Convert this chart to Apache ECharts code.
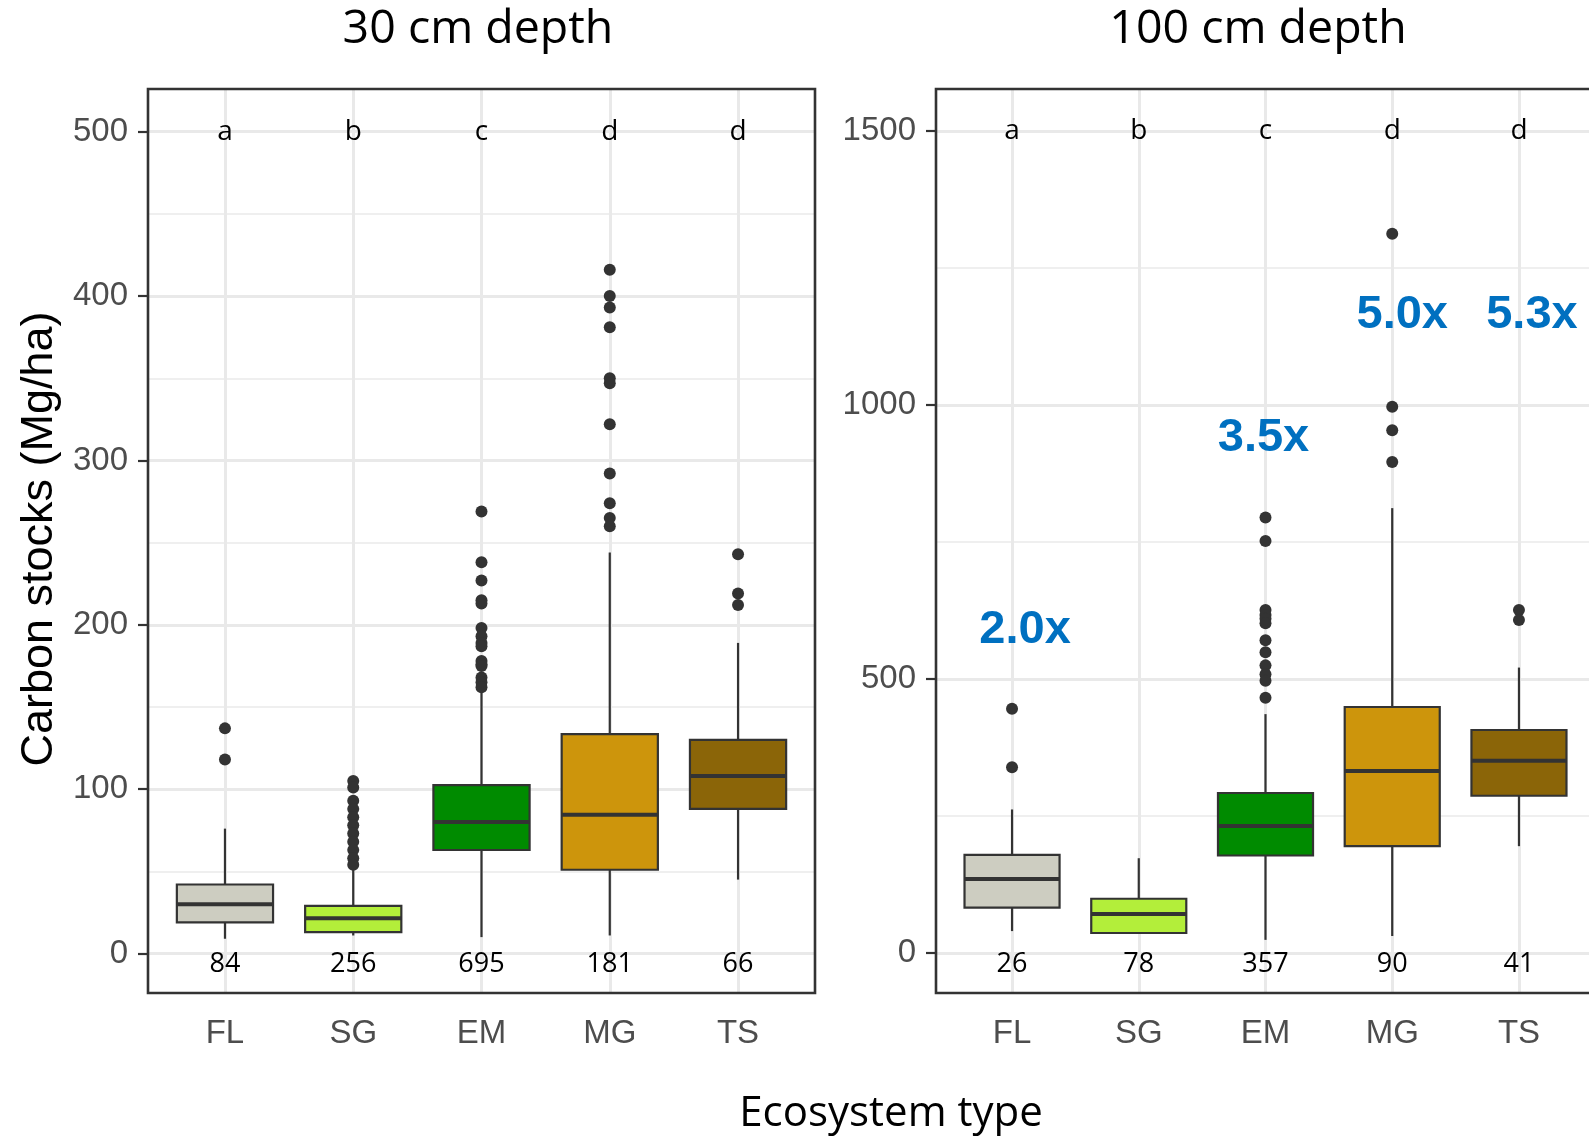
<!DOCTYPE html>
<html>
<head>
<meta charset="utf-8">
<script src="https://cdn.jsdelivr.net/npm/echarts@6/dist/echarts.min.js"></script>
<style>
  html, body { margin: 0; padding: 0; background: #ffffff; }
  #chart { width: 1589px; height: 1139px; }
</style>
</head>
<body>
<div id="chart"></div>
<script>
// ---- data ---------------------------------------------------------------
const categories = ['FL', 'SG', 'EM', 'MG', 'TS'];
const letters = ['a', 'b', 'c', 'd', 'd'];

// 30 cm depth: [lower whisker, Q1, median, Q3, upper whisker] (Mg/ha)
const box30 = [
  [9, 19, 30, 42, 76],
  [11, 13, 21.5, 29, 51],
  [10, 63, 80, 102.5, 160],
  [11, 51, 84.5, 133.5, 244],
  [45, 88, 108, 130, 189]
];
const outliers30 = [
  [137, 118],
  [105, 101, 93, 88, 83, 78, 73, 68, 63, 58, 54],
  [269, 238, 227, 215, 213, 198, 193, 189, 187, 178, 176, 175, 168, 165, 162],
  [416, 400, 393, 381, 350, 347, 322, 292, 274, 265, 260],
  [243, 219, 212]
];
const n30 = [84, 256, 695, 181, 66];
const yTicks30 = [0, 100, 200, 300, 400, 500];

// 100 cm depth
const box100 = [
  [40, 83, 135, 179, 262],
  [35, 36.5, 71, 99, 173],
  [24, 178, 232, 292, 436],
  [31, 195, 332, 449, 812],
  [195, 287, 351, 407, 521]
];
const outliers100 = [
  [446, 339],
  [],
  [795, 752, 626, 617, 610, 602, 571, 549, 525, 509, 497, 466],
  [1313, 997, 954, 896],
  [626, 608]
];
const n100 = [26, 78, 357, 90, 41];
const yTicks100 = [0, 500, 1000, 1500];

// fold-change annotations on the 100 cm panel
const foldText = ['2.0x', '', '3.5x', '5.0x', '5.3x'];
const foldY = [590, null, 940, 1165, 1165];

// ---- styling ------------------------------------------------------------
const boxColors = ['#CDCDC1', '#B3EE3A', '#008B00', '#CD950C', '#8B6508'];
const foldNudgePx = [13, 0, -2, 10, 13];
const ink = '#333333';
const gridGrey = '#E9E9E9';
const catPos = categories.map((c, i) => i + 1);

function boxData(stats) {
  return stats.map((s, i) => [i + 1, s[0], s[1], s[2], s[3], s[4], i]);
}
function outlierData(lists) {
  const out = [];
  lists.forEach((vals, i) => vals.forEach(v => out.push([i + 1, v])));
  return out;
}
function minorBetween(ticks) {
  const m = [];
  for (let i = 0; i < ticks.length - 1; i++) m.push((ticks[i] + ticks[i + 1]) / 2);
  return m;
}
function gridLineData(ticks) {
  const d = [];
  minorBetween(ticks).forEach(v => d.push({ yAxis: v, lineStyle: { color: '#EFEFEF', width: 2, type: 'solid' } }));
  ticks.forEach(v => d.push({ yAxis: v, lineStyle: { color: gridGrey, width: 3, type: 'solid' } }));
  catPos.forEach(v => d.push({ xAxis: v, lineStyle: { color: gridGrey, width: 3, type: 'solid' } }));
  return d;
}

function renderBox(params, api) {
  const x = api.value(0);
  const pLo = api.coord([x, api.value(1)]);
  const pQ1 = api.coord([x, api.value(2)]);
  const pMed = api.coord([x, api.value(3)]);
  const pQ3 = api.coord([x, api.value(4)]);
  const pHi = api.coord([x, api.value(5)]);
  const w = api.size([0.75, 0])[0];
  const cx = pMed[0];
  const fill = boxColors[api.value(6)];
  return {
    type: 'group',
    children: [
      { type: 'line', shape: { x1: cx, y1: pHi[1], x2: cx, y2: pQ3[1] }, style: { stroke: ink, lineWidth: 2.2 } },
      { type: 'line', shape: { x1: cx, y1: pQ1[1], x2: cx, y2: pLo[1] }, style: { stroke: ink, lineWidth: 2.2 } },
      { type: 'rect', shape: { x: cx - w / 2, y: pQ3[1], width: w, height: pQ1[1] - pQ3[1] },
        style: { fill: fill, stroke: ink, lineWidth: 2.2 } },
      { type: 'line', shape: { x1: cx - w / 2, y1: pMed[1], x2: cx + w / 2, y2: pMed[1] },
        style: { stroke: ink, lineWidth: 4 } }
    ]
  };
}

function xAxisFor(gridIndex) {
  return {
    type: 'value', gridIndex: gridIndex, min: 0.4, max: 5.6,
    axisLine: { show: false },
    splitLine: { show: false },
    axisTick: { show: true, customValues: catPos, length: 10, lineStyle: { color: ink, width: 2.2 } },
    axisLabel: {
      customValues: catPos, margin: 24,
      formatter: v => categories[Math.round(v) - 1],
      color: '#4D4D4D', fontFamily: 'Liberation Sans', fontSize: 33
    }
  };
}
function yAxisFor(gridIndex, min, max, ticks) {
  return {
    type: 'value', gridIndex: gridIndex, min: min, max: max,
    axisLine: { show: false },
    splitLine: { show: false },
    axisTick: { show: true, customValues: ticks, length: 10, lineStyle: { color: ink, width: 2.2 } },
    axisLabel: {
      customValues: ticks, margin: 20,
      formatter: v => String(v),
      color: '#4D4D4D', fontFamily: 'Liberation Sans', fontSize: 33
    }
  };
}

function textSeries(idx, data, label) {
  return {
    type: 'scatter', xAxisIndex: idx, yAxisIndex: idx, z: 6,
    symbolSize: 1, itemStyle: { color: 'rgba(0,0,0,0)' },
    silent: true,
    label: Object.assign({
      show: true, position: 'inside', formatter: p => p.value[2],
      textBorderWidth: 0, textBorderColor: 'transparent', opacity: 1
    }, label),
    emphasis: { disabled: true },
    data: data
  };
}

function panelSeries(idx, stats, outs, ticks, nVals, topY) {
  return [
    {
      type: 'line', xAxisIndex: idx, yAxisIndex: idx, z: 1, data: [], silent: true,
      markLine: {
        z: 1, silent: true, symbol: ['none', 'none'], animation: false,
        lineStyle: { type: 'solid' },
        label: { show: false }, emphasis: { disabled: true },
        data: gridLineData(ticks)
      }
    },
    {
      type: 'custom', xAxisIndex: idx, yAxisIndex: idx, z: 3,
      renderItem: renderBox,
      encode: { x: 0, y: [1, 2, 3, 4, 5] },
      data: boxData(stats)
    },
    {
      type: 'scatter', xAxisIndex: idx, yAxisIndex: idx, z: 4,
      symbolSize: 12, itemStyle: { color: ink, opacity: 1 },
      data: outlierData(outs)
    },
    textSeries(idx, letters.map((l, i) => [i + 1, topY, l]),
      { color: '#000000', fontFamily: 'Open Sans', fontSize: 28 }),
    textSeries(idx, nVals.map((n, i) => [i + 1, 0, String(n)]),
      { color: '#000000', fontFamily: 'Open Sans', fontSize: 27, offset: [0, 11] })
  ];
}

const foldData = [];
foldText.forEach((t, i) => {
  if (t) foldData.push({ value: [i + 1, foldY[i], t], label: { offset: [foldNudgePx[i], 0] } });
});

const chart = echarts.init(document.getElementById('chart'), null, { renderer: 'canvas' });
chart.setOption({
  animation: false,
  backgroundColor: '#ffffff',
  grid: [
    { left: 148, top: 89, width: 667, height: 904, show: true, z: 10, outerBoundsMode: 'none',
      backgroundColor: 'rgba(0,0,0,0)', borderColor: ink, borderWidth: 2.6 },
    { left: 936, top: 89, width: 659, height: 904, show: true, z: 10, outerBoundsMode: 'none',
      backgroundColor: 'rgba(0,0,0,0)', borderColor: ink, borderWidth: 2.6 }
  ],
  xAxis: [xAxisFor(0), xAxisFor(1)],
  yAxis: [yAxisFor(0, -24, 526, yTicks30), yAxisFor(1, -73, 1577, yTicks100)],
  graphic: [
    { type: 'text', x: 478, y: 30, style: { text: '30 cm depth', font: '46.5px "Open Sans"', fill: '#000',
      textAlign: 'center', textVerticalAlign: 'middle' } },
    { type: 'text', x: 1258, y: 30, style: { text: '100 cm depth', font: '46.5px "Open Sans"', fill: '#000',
      textAlign: 'center', textVerticalAlign: 'middle' } },
    { type: 'text', x: 891, y: 1114, style: { text: 'Ecosystem type', font: '42px "Open Sans"', fill: '#000',
      textAlign: 'center', textVerticalAlign: 'middle' } },
    { type: 'text', x: 40, y: 539, rotation: Math.PI / 2,
      style: { text: 'Carbon stocks (Mg/ha)', font: '45px "Liberation Sans"', fill: '#000',
      textAlign: 'center', textVerticalAlign: 'middle' } }
  ],
  series: [
    ...panelSeries(0, box30, outliers30, yTicks30, n30, 500),
    ...panelSeries(1, box100, outliers100, yTicks100, n100, 1500),
    textSeries(1, foldData, { color: '#0070C0', fontFamily: 'Liberation Sans', fontWeight: 'bold', fontSize: 47 })
  ]
});
</script>
</body>
</html>
